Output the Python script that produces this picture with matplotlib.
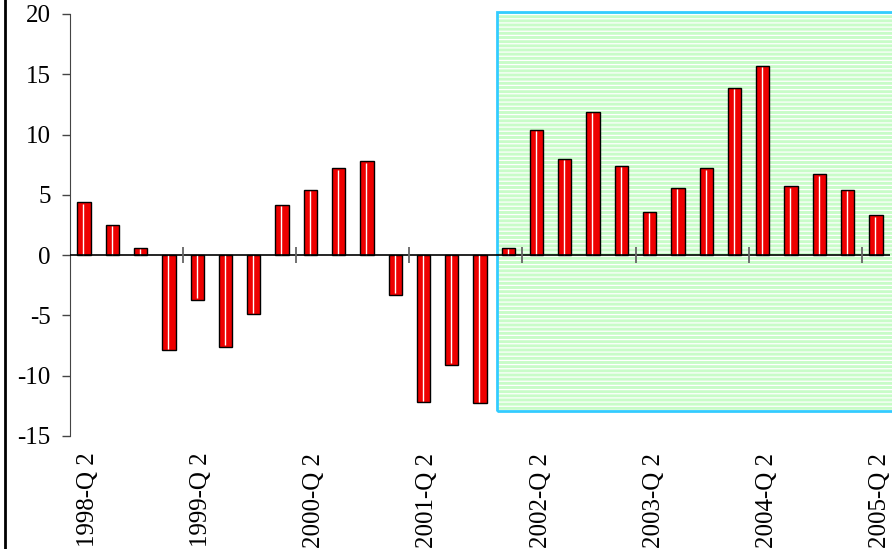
import matplotlib
matplotlib.use("Agg")
import matplotlib.pyplot as plt
from matplotlib.patches import Rectangle
from matplotlib.transforms import ScaledTranslation
import numpy as np

# Quarterly growth rates, 1998-Q2 .. 2005-Q2
quarters = [f"{y}-Q {q}" for y in range(1998, 2006) for q in (1, 2, 3, 4)][1:30]
values = [4.4, 2.5, 0.6,
          -7.9, -3.7, -7.6, -4.9,
          4.2, 5.4, 7.2, 7.8,
          -3.3, -12.2, -9.1, -12.3,
          0.6, 10.4, 8.0, 11.9,
          7.4, 3.6, 5.6, 7.2,
          13.9, 15.7, 5.7, 6.7,
          5.4, 3.3]
label_every = 4
shade_start = 14.6   # first position of the highlighted period
shade_ymin, shade_ymax = -12.95, 20.2

plt.rcParams['font.family'] = ['Liberation Serif', 'DejaVu Serif']
plt.rcParams['hatch.linewidth'] = 0.9

fig = plt.figure(figsize=(8.92, 5.49), dpi=100)
ax = fig.add_axes([70 / 892, 113 / 549, 820 / 892, 422 / 549])

x = np.arange(len(values))
bw = 0.47

# highlighted period: pale green with white horizontal stripes and cyan frame
ax.add_patch(Rectangle((shade_start, shade_ymin), 30 - shade_start, shade_ymax - shade_ymin,
                       facecolor='#c8fcc8', edgecolor='none', zorder=0, clip_on=False))
ax.add_patch(Rectangle((shade_start, shade_ymin), 30 - shade_start, shade_ymax - shade_ymin,
                       facecolor='none', edgecolor='white', hatch='----', lw=0,
                       zorder=0.5, clip_on=False))
ax.add_patch(Rectangle((shade_start, shade_ymin), 30 - shade_start, shade_ymax - shade_ymin,
                       facecolor='none', edgecolor='#33ccff', lw=2, zorder=1, clip_on=False))

# bars
ax.bar(x, values, width=bw, color='#ee0000', edgecolor='black', linewidth=1, zorder=3)
vals = np.array(values)
ax.vlines(x - bw / 2 + 0.45 * bw, 0, vals - np.sign(vals) * 0.12,
          color='white', lw=1, zorder=4)

# zero line and category separators
ax.axhline(0, color='black', lw=1.2, zorder=5)
seps = np.arange(label_every - 0.5, len(values) - 1, label_every)
ax.vlines(seps, -0.66, 0.66, color='#666666', lw=1.3, zorder=5)

ax.set_xlim(-0.5, len(values) - 0.5)
ax.set_ylim(-15, 20)
ax.set_yticks(np.arange(-15, 21, 5))
ax.set_yticklabels([str(v) for v in range(-15, 21, 5)])

pos = x[::label_every]
ax.set_xticks(pos)
ax.set_xticklabels([quarters[i] for i in pos], rotation=90, va='top', ha='center')
ax.tick_params(axis='x', length=0, pad=12, labelsize=18)
ax.tick_params(axis='y', length=6, pad=8, labelsize=18, color='#444444', width=1)
shift = ScaledTranslation(4 / 100, 0, fig.dpi_scale_trans)
for lab in ax.get_xticklabels():
    lab.set_transform(lab.get_transform() + shift)

for s in ('top', 'right', 'bottom'):
    ax.spines[s].set_visible(False)
ax.spines['left'].set_color('#444444')
ax.patch.set_alpha(0)

# frame line along the left edge of the figure
fig.add_artist(plt.Line2D([4.5 / 892, 4.5 / 892], [0, 1], color='black', lw=2,
                          transform=fig.transFigure))

fig.savefig('out.png', dpi=100)
